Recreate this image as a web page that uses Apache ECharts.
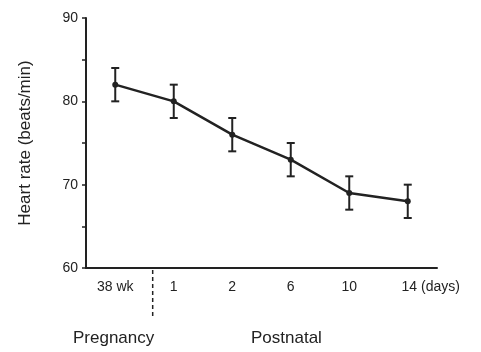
<!DOCTYPE html>
<html>
<head>
<meta charset="utf-8">
<script src="https://cdn.jsdelivr.net/npm/echarts@6/dist/echarts.min.js"></script>
<style>
  html, body { margin: 0; padding: 0; background: #fff; }
  #chart { width: 481px; height: 352px; }
</style>
</head>
<body>
<div id="chart"></div>
<script>
// data
const categories = ['38 wk', '1', '2', '6', '10', '14'];
const heartRate = [82, 80, 76, 73, 69, 68];
const errLow = [80, 78, 74, 71, 67, 66];
const errHigh = [84, 82, 78, 75, 71, 70];
const yTicks = [60, 70, 80, 90];
const dividerOffset = 0.64; // divider sits between 38 wk and day 1

const ink = '#222';
const font = 'Liberation Sans, Arial, sans-serif';

const chart = echarts.init(document.getElementById('chart'), null, {renderer: 'canvas'});

const option = {
  animation: false,
  grid: {left: 86, right: 44, top: 18, bottom: 84},
  xAxis: {
    type: 'category',
    data: categories,
    boundaryGap: true,
    axisLine: {lineStyle: {color: ink, width: 2}},
    axisTick: {alignWithLabel: true, length: 4, lineStyle: {color: ink, width: 1.5}},
    axisLabel: {
      interval: 0,
      hideOverlap: false,
      color: ink,
      fontFamily: font,
      fontSize: 14,
      margin: 12,
      formatter: (v) => v === '14' ? '{p|14} (days)' : v,
      rich: {p: {padding: [0, 0, 0, 46], fontFamily: font, fontSize: 14, color: ink}}
    },
    splitLine: {show: false}
  },
  yAxis: {
    type: 'value',
    min: yTicks[0],
    max: yTicks[yTicks.length - 1],
    interval: 10,
    name: 'Heart rate (beats/min)',
    nameLocation: 'middle',
    nameGap: 52,
    nameTextStyle: {color: ink, fontFamily: font, fontSize: 17},
    axisLine: {show: true, lineStyle: {color: ink, width: 2}},
    axisTick: {show: true, length: 4, lineStyle: {color: ink, width: 1.5}},
    minorTick: {show: true, splitNumber: 2, length: 4, lineStyle: {color: ink, width: 1.5}},
    axisLabel: {color: ink, fontFamily: font, fontSize: 14, margin: 8},
    splitLine: {show: false}
  },
  series: [
    {
      type: 'line',
      data: heartRate,
      symbol: 'circle',
      symbolSize: 6,
      itemStyle: {color: ink},
      lineStyle: {color: ink, width: 2.5},
      z: 3
    },
    {
      type: 'custom',
      data: categories.map((c, i) => [i, errLow[i], errHigh[i]]),
      renderItem: (params, api) => {
        const lo = api.coord([api.value(0), api.value(1)]);
        const hi = api.coord([api.value(0), api.value(2)]);
        const cap = 4;
        const style = {stroke: ink, lineWidth: 2};
        return {
          type: 'group',
          children: [
            {type: 'line', shape: {x1: hi[0], y1: hi[1], x2: lo[0], y2: lo[1]}, style},
            {type: 'line', shape: {x1: hi[0] - cap, y1: hi[1], x2: hi[0] + cap, y2: hi[1]}, style},
            {type: 'line', shape: {x1: lo[0] - cap, y1: lo[1], x2: lo[0] + cap, y2: lo[1]}, style}
          ]
        };
      },
      z: 2
    },
    {
      // dashed divider below the axis between pregnancy and postnatal
      type: 'custom',
      clip: false,
      data: [[0, yTicks[0]]],
      renderItem: (params, api) => {
        const p = api.coord([api.value(0), api.value(1)]);
        const band = api.size([1, 0])[0];
        const x = p[0] + dividerOffset * band;
        return {
          type: 'line',
          shape: {x1: x, y1: p[1] + 2, x2: x, y2: p[1] + 50},
          style: {stroke: ink, lineWidth: 1.5, lineDash: [4, 3]}
        };
      },
      silent: true
    }
  ],
  graphic: [
    {type: 'text', left: 73, top: 330, style: {text: 'Pregnancy', fill: ink, font: '17px ' + font}},
    {type: 'text', left: 251, top: 330, style: {text: 'Postnatal', fill: ink, font: '17px ' + font}}
  ]
};

chart.setOption(option);
</script>
</body>
</html>
